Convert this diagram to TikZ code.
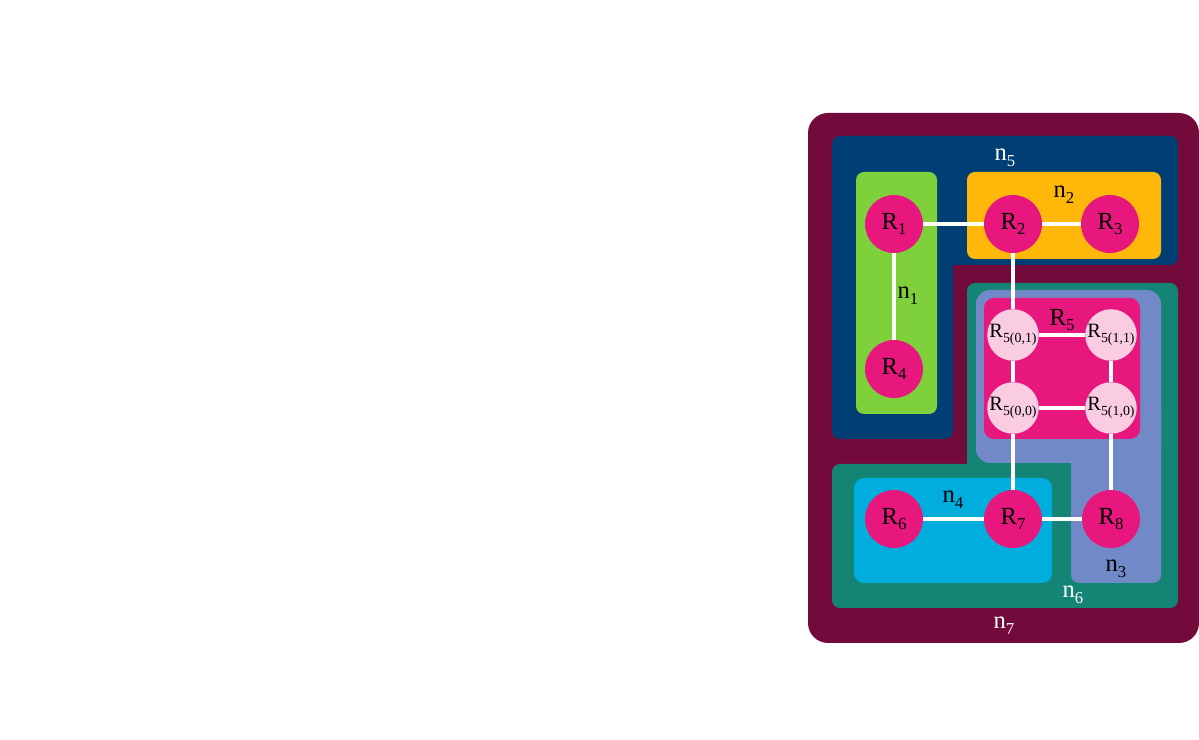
\documentclass[tikz,border=0pt]{standalone}
\usepackage{fontspec}
\setmainfont{Liberation Serif}
\definecolor{nmaroon}{HTML}{720B3B}
\definecolor{nnavy}{HTML}{003E74}
\definecolor{ngreen}{HTML}{7ED13B}
\definecolor{namber}{HTML}{FFB70A}
\definecolor{nteal}{HTML}{148575}
\definecolor{nlav}{HTML}{7289C7}
\definecolor{ncyan}{HTML}{00ADDC}
\definecolor{rmag}{HTML}{E8177E}
\definecolor{rpink}{HTML}{F9CCE2}
\newcommand{\lowsub}[1]{\raisebox{-0.5ex}{\scalebox{0.68}{#1}}}

\begin{document}
\begin{tikzpicture}[
  x=0.025cm, y=-0.025cm,
  font=\fontsize{17.5}{20}\selectfont,
  rnode/.style={circle, fill=rmag, minimum size=1.45cm, inner sep=0pt},
  subnode/.style={circle, fill=rpink, minimum size=1.2cm, inner sep=0pt, font=\fontsize{14.5}{16}\selectfont},
  lbl/.style={inner sep=0pt},
  link/.style={draw=white, line width=3pt},
]
\useasboundingbox (0,0) rectangle (1199,740);
\fill[nmaroon, rounded corners=0.5cm] (808,113) rectangle (1199,643);
\fill[nnavy, rounded corners=0.2cm] (832,136) rectangle (1178,265) (832,136) rectangle (953,439);
\fill[ngreen, rounded corners=0.2cm] (856,172) rectangle (937,414);
\fill[namber, rounded corners=0.2cm] (967,172) rectangle (1161,259);
\fill[nteal, rounded corners=0.2cm] (967,283) rectangle (1178,608) (832,464) rectangle (1178,608);
\fill[nlav, rounded corners=0.35cm] (976,290) rectangle (1161,463);
\fill[nlav, rounded corners=0.2cm] (1071,400) rectangle (1161,583);
\fill[rmag, rounded corners=0.25cm] (984,298) rectangle (1140,439);
\fill[ncyan, rounded corners=0.25cm] (854,478) rectangle (1052,583);

\node[rnode] (r1) at (894,224) {R\lowsub{1}};
\node[rnode] (r2) at (1013,224) {R\lowsub{2}};
\node[rnode] (r3) at (1110,224) {R\lowsub{3}};
\node[rnode] (r4) at (894,369) {R\lowsub{4}};
\node[subnode] (r501) at (1013,335) {R\lowsub{5(0,1)}};
\node[subnode] (r511) at (1111,335) {R\lowsub{5(1,1)}};
\node[subnode] (r500) at (1013,408) {R\lowsub{5(0,0)}};
\node[subnode] (r510) at (1111,408) {R\lowsub{5(1,0)}};
\node[rnode] (r6) at (894,519) {R\lowsub{6}};
\node[rnode] (r7) at (1013,519) {R\lowsub{7}};
\node[rnode] (r8) at (1111,519) {R\lowsub{8}};

\node[lbl, text=white] (n5) at (1005,158) {n\lowsub{5}};
\node[lbl] (n2) at (1064,195) {n\lowsub{2}};
\node[lbl] (n1) at (908,296) {n\lowsub{1}};
\node[lbl] (r5) at (1062,320) {R\lowsub{5}};
\node[lbl] (n4) at (953,500) {n\lowsub{4}};
\node[lbl] (n3) at (1116,569) {n\lowsub{3}};
\node[lbl, text=white] (n6) at (1073,595) {n\lowsub{6}};
\node[lbl, text=white] (n7) at (1004,626) {n\lowsub{7}};

\draw[link] (r1) -- (r2);
\draw[link] (r2) -- (r3);
\draw[link] (r1) -- (r4);
\draw[link] (r2) -- (r501);
\draw[link] (r501) -- (r511);
\draw[link] (r501) -- (r500);
\draw[link] (r511) -- (r510);
\draw[link] (r500) -- (r510);
\draw[link] (r500) -- (r7);
\draw[link] (r510) -- (r8);
\draw[link] (r6) -- (r7);
\draw[link] (r7) -- (r8);
\end{tikzpicture}
\end{document}
